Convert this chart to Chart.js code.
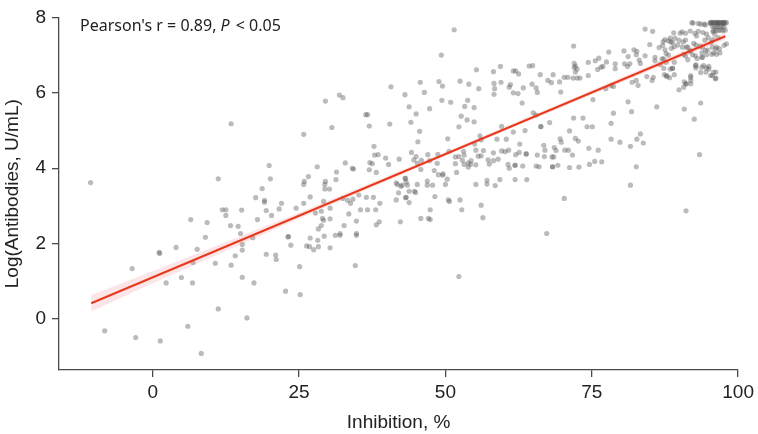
<!DOCTYPE html>
<html>
<head>
<meta charset="utf-8">
<script src="https://cdn.jsdelivr.net/npm/chart.js@4.4.1/dist/chart.umd.min.js"></script>
<style>
  html, body { margin: 0; padding: 0; background: #fff; }
  #wrap { width: 758px; height: 434px; }
</style>
</head>
<body>
<div id="wrap"><canvas id="scatterChart" width="758" height="434"></canvas></div>
<script>
"use strict";

// axis ticks
const xTicks = [0, 25, 50, 75, 100];
const yTicks = [0, 2, 4, 6, 8];

// samples [inhibition %, log antibodies]
const lowGroup = [
    [-10.6, 3.62], [13.4, 5.18], [11.2, 3.72], [11.9, 2.90], [12.5, 2.90], [12.5, 2.75], [6.5, 2.64],
    [9.3, 2.56], [13.3, 2.48], [14.6, 2.46], [9.0, 2.17], [4.0, 1.90], [7.6, 1.85], [1.1, 1.77],
    [1.2, 1.74], [14.1, 1.68], [6.9, 1.50], [10.7, 1.48], [13.4, 1.43], [-3.5, 1.34], [4.9, 1.10],
    [2.3, 0.96], [6.8, 0.96], [11.2, 0.27], [6.0, -0.19], [-8.2, -0.31], [-2.9, -0.49], [1.3, -0.58],
    [8.3, -0.91]
];

const midLowGroup = [
    [40.7, 6.16], [43.1, 5.95], [31.9, 5.94], [32.5, 5.87], [29.5, 5.78], [36.4, 5.42], [36.7, 5.42],
    [37.0, 5.12], [40.5, 5.17], [30.6, 5.08], [25.8, 4.90], [37.8, 4.58], [37.9, 4.35], [38.5, 4.36],
    [39.8, 4.27], [42.1, 4.24], [19.9, 4.07], [28.1, 4.04], [32.9, 4.14], [34.1, 4.00], [34.3, 3.98],
    [37.1, 4.15], [37.5, 4.12], [40.3, 4.10], [37.0, 3.96], [38.2, 3.89], [31.4, 3.90], [26.6, 3.78],
    [20.1, 3.72], [29.5, 3.65], [31.3, 3.70], [25.9, 3.65], [43.1, 3.73], [41.6, 3.61],
    [18.7, 3.46], [25.8, 3.57], [29.4, 3.57], [29.4, 3.45], [30.2, 3.45], [17.6, 3.22], [19.1, 3.15],
    [19.1, 3.10], [22.0, 3.07], [26.9, 3.24], [25.8, 3.07], [21.6, 2.92], [24.5, 2.94], [19.4, 2.88],
    [15.2, 2.89], [20.3, 2.75], [17.9, 2.64], [27.8, 2.81], [28.8, 2.86], [30.3, 2.94], [29.2, 3.12],
    [30.3, 2.66], [29.0, 2.67], [29.2, 2.62], [32.5, 3.20], [33.3, 3.15], [33.8, 3.07], [34.2, 3.18],
    [35.5, 2.90], [36.7, 2.90], [38.1, 2.90], [33.5, 2.79], [35.2, 3.29], [36.5, 3.23], [37.7, 3.23],
    [38.8, 3.07], [34.8, 2.60], [32.7, 2.48], [28.8, 2.48], [28.3, 2.39], [38.7, 2.58], [38.2, 2.50],
    [41.6, 3.16], [42.0, 3.35], [43.2, 3.22], [42.4, 3.52], [41.8, 3.57], [15.0, 2.27], [15.3, 1.98],
    [15.3, 1.83], [17.1, 2.16], [23.1, 2.18], [23.2, 2.19], [23.6, 1.96], [26.9, 2.15], [26.3, 1.94],
    [26.8, 1.92], [27.5, 1.84], [28.2, 2.09], [28.3, 1.92], [29.3, 2.20], [30.3, 1.89], [31.2, 2.22],
    [32.0, 2.27], [32.0, 2.22], [34.8, 2.27], [34.8, 2.22], [19.4, 1.72], [21.0, 1.70], [21.1, 1.58],
    [25.1, 1.39], [34.6, 1.42], [15.3, 1.11], [17.3, 0.96], [22.7, 0.74], [25.2, 0.65], [16.1, 0.03]
];

const midHighGroup = [
    [42.6, 3.55], [43.5, 3.55], [45.2, 3.57], [46.9, 3.55], [47.8, 3.55], [50.0, 3.57], [55.2, 3.57],
    [57.1, 3.58], [58.5, 3.54], [43.8, 3.39], [44.7, 3.39], [44.9, 3.36], [43.3, 3.23], [43.8, 3.09],
    [48.2, 3.25], [50.5, 3.16], [50.7, 3.12], [52.5, 3.16], [52.8, 2.90], [56.1, 3.02], [56.4, 2.69],
    [47.4, 2.90], [45.8, 2.67], [47.1, 2.67], [47.4, 2.64], [42.3, 2.58], [70.3, 3.20], [67.3, 2.27],
    [52.3, 1.13],
    [51.5, 7.67], [49.3, 7.00], [71.9, 7.24], [72.0, 6.78], [72.2, 6.71], [72.5, 6.63], [55.3, 6.61],
    [59.4, 6.70], [61.6, 6.58], [62.0, 6.58], [62.5, 6.50], [64.3, 6.71], [64.9, 6.72], [58.2, 6.56],
    [66.2, 6.48], [68.4, 6.48], [70.3, 6.41], [70.9, 6.41], [71.8, 6.39], [72.5, 6.39], [45.7, 6.28],
    [48.9, 6.30], [49.5, 6.18], [52.5, 6.31], [54.0, 6.23], [55.7, 6.11], [58.3, 6.25], [58.4, 6.11],
    [58.3, 5.96], [59.5, 6.28], [61.1, 6.22], [60.9, 6.15], [61.6, 6.00], [62.4, 5.98], [63.3, 6.13],
    [64.8, 6.23], [65.5, 6.13], [65.7, 6.01], [67.5, 6.33], [68.1, 6.27], [69.5, 6.29], [69.7, 6.02],
    [46.4, 6.01], [43.8, 5.63], [47.3, 5.58], [49.4, 5.80], [50.9, 5.75], [53.3, 5.64], [53.8, 5.80],
    [54.9, 5.61], [45.0, 5.44], [44.1, 5.22], [52.7, 5.38], [53.7, 5.28], [54.9, 5.23], [52.3, 5.10],
    [45.6, 4.98], [63.1, 5.73], [65.0, 5.47], [65.5, 5.41], [59.6, 5.11], [61.6, 4.96], [63.6, 5.00],
    [66.3, 5.10], [66.3, 5.11], [67.8, 5.21], [71.9, 5.33], [73.5, 5.33], [71.2, 4.99], [72.2, 4.79],
    [72.7, 4.72], [69.6, 4.78], [69.8, 4.69], [50.4, 4.78], [55.9, 4.86], [56.1, 4.75], [58.8, 4.77],
    [60.4, 4.77], [62.7, 4.64], [66.8, 4.61], [67.0, 4.48], [68.6, 4.55], [68.9, 4.47], [70.4, 4.48],
    [71.0, 4.48], [45.3, 4.70], [44.2, 4.42], [44.6, 4.22], [45.0, 4.31], [47.0, 4.36], [48.7, 4.37],
    [50.6, 4.45], [51.7, 4.30], [52.3, 4.31], [53.1, 4.45], [53.2, 4.35], [52.9, 4.21], [55.0, 4.64],
    [55.2, 4.48], [56.5, 4.47], [58.2, 4.41], [59.6, 4.46], [60.2, 4.44], [60.8, 4.48], [62.6, 4.42],
    [63.8, 4.38], [63.8, 4.38], [65.7, 4.35], [68.2, 4.30], [68.5, 4.30], [71.7, 4.35], [45.2, 4.13],
    [45.9, 4.21], [47.3, 4.20], [48.6, 4.13], [51.7, 4.12], [54.4, 4.20], [53.9, 4.14], [55.6, 4.32],
    [56.1, 4.33], [57.3, 4.22], [58.2, 4.20], [59.0, 4.24], [62.0, 4.36], [66.9, 4.31], [53.2, 4.10],
    [53.9, 4.03], [54.3, 4.10], [55.2, 4.09], [57.5, 4.11], [60.7, 4.10], [60.9, 4.00], [61.9, 4.08],
    [61.9, 4.08], [63.2, 4.06], [65.5, 4.06], [66.0, 4.04], [68.3, 4.04], [68.3, 4.04], [69.2, 4.08],
    [71.2, 4.02], [72.8, 4.03], [43.2, 3.73], [43.3, 3.63], [45.8, 3.97], [48.1, 3.94], [48.8, 3.83],
    [49.5, 3.82], [49.6, 3.85], [46.9, 3.66], [50.3, 3.71], [51.9, 3.89], [57.1, 3.68], [59.3, 3.70],
    [61.9, 3.70], [63.9, 3.70]
];

const highGroup = [
    [84.1, 7.69], [85.4, 7.63], [92.3, 7.85], [93.2, 7.84], [94.2, 7.82], [77.9, 7.08], [80.5, 7.11],
    [82.2, 7.14], [82.7, 7.10], [81.2, 6.96], [84.1, 6.98], [82.6, 7.01], [84.9, 7.28], [86.5, 7.20],
    [87.2, 7.36], [87.5, 7.41], [88.4, 7.45], [90.1, 7.58], [90.4, 7.62], [91.0, 7.58], [91.8, 7.64],
    [92.6, 7.58], [72.0, 6.67], [72.2, 6.55], [74.4, 6.81], [75.6, 6.85], [76.2, 6.92], [76.0, 6.62],
    [76.6, 6.68], [76.9, 6.70], [74.4, 6.46], [73.0, 6.39], [77.5, 6.82], [79.0, 6.77], [79.0, 6.64],
    [80.6, 6.77], [81.1, 6.70], [81.5, 6.77], [83.1, 6.87], [83.3, 6.78], [85.8, 6.94], [85.8, 6.85],
    [87.0, 6.90], [87.3, 6.65], [88.1, 7.00], [87.7, 6.81], [88.5, 7.35], [88.6, 7.18], [89.1, 7.22],
    [89.7, 7.27], [90.6, 7.35], [91.0, 7.40], [91.2, 7.21], [91.7, 7.10], [92.4, 7.31], [92.9, 7.51],
    [93.2, 7.63], [93.5, 7.24], [93.8, 7.06], [91.0, 6.98], [91.4, 6.88], [92.2, 7.01], [93.0, 6.91],
    [93.9, 6.94], [94.8, 7.13], [95.4, 7.34], [94.6, 7.01], [95.8, 7.06], [96.2, 7.16], [89.1, 6.81],
    [88.8, 6.65], [89.1, 6.48], [87.4, 6.48], [87.8, 6.46], [85.5, 6.41], [84.4, 6.43], [85.3, 6.33],
    [81.9, 6.28], [82.6, 6.33], [82.9, 6.20], [78.3, 6.19], [78.7, 6.17], [77.4, 6.11], [92.8, 6.74],
    [92.8, 6.66], [94.1, 6.72], [94.6, 6.66], [95.0, 6.70], [94.5, 6.55], [96.2, 6.55], [95.6, 6.46],
    [96.2, 6.39], [91.9, 6.41], [91.9, 6.33], [90.8, 6.29], [89.9, 6.08], [90.7, 6.15], [91.1, 6.24],
    [93.6, 5.73], [90.8, 5.57], [92.5, 5.30], [93.4, 4.36], [86.1, 5.63], [81.2, 5.76], [81.8, 5.50],
    [75.2, 5.82], [78.7, 5.46], [78.3, 5.19], [74.2, 5.10], [75.1, 5.10], [83.3, 4.91], [78.3, 4.77],
    [79.8, 4.69], [82.7, 4.77], [83.8, 4.67], [81.6, 4.58], [74.5, 4.53], [76.1, 4.48], [75.5, 4.18],
    [76.7, 4.17], [74.6, 4.10], [82.6, 4.04], [81.6, 3.55], [91.1, 2.87],
    [92.1, 7.86], [93.6, 7.82], [94.4, 7.80], [89.0, 7.59], [88.1, 7.38], [89.2, 7.45], [88.8, 7.33],
    [89.9, 7.40], [94.0, 7.60], [94.6, 7.56], [95.7, 7.62], [96.0, 7.55], [94.3, 7.40], [94.9, 7.46],
    [95.7, 7.41], [96.6, 7.46], [92.8, 7.27], [93.9, 7.21], [94.4, 7.12], [95.6, 7.21], [96.3, 7.21],
    [96.8, 7.17], [87.1, 7.26], [87.5, 7.14], [87.7, 7.04], [90.5, 7.21], [91.4, 7.21], [91.9, 7.12],
    [95.5, 7.02], [96.3, 7.02], [96.9, 7.06], [97.6, 7.26], [98.0, 7.30], [87.3, 6.90], [86.7, 6.75],
    [90.7, 7.02], [92.7, 6.98], [93.8, 6.94], [92.7, 6.72], [93.8, 6.68], [95.0, 6.63], [95.3, 6.46],
    [95.8, 6.54], [96.1, 6.37], [93.6, 6.54], [91.9, 6.46], [88.8, 6.65], [88.4, 6.63], [87.8, 6.43],
    [88.3, 6.40], [91.1, 6.24], [91.9, 6.24]
];

// saturated samples near the top of the assay range
const cappedGroup = [
    [95.2, 7.86], [95.4, 7.86], [95.6, 7.87], [95.8, 7.86], [96.0, 7.86], [96.2, 7.87], [96.4, 7.86],
    [96.6, 7.86], [96.8, 7.87], [97.0, 7.86], [97.2, 7.86], [97.4, 7.86], [97.6, 7.87], [97.8, 7.86],
    [98.0, 7.86], [95.3, 7.84], [96.5, 7.84], [97.5, 7.84],
    [95.6, 7.76], [96.0, 7.75], [96.4, 7.76], [96.8, 7.75], [97.2, 7.76], [97.6, 7.75],
    [95.8, 7.65], [96.2, 7.66], [96.6, 7.65], [97.0, 7.66], [97.4, 7.65], [97.8, 7.66]
];

// regression line and its confidence band
const fitX = [-10.5, 97.8];
const fitY = [0.42, 7.50];
const bandX = [-10.5, 0, 25, 50, 75, 97.8];
const bandHigh = [0.64, 1.27, 2.82, 4.43, 6.07, 7.59];
const bandLow = [0.20, 0.95, 2.66, 4.33, 5.95, 7.41];

const axisFont = "'Liberation Sans', Arial, sans-serif";
const axisColor = '#4a4a4a';

var statsLabel = {
    id: 'statsLabel',
    afterDraw: function (chart) {
        const ctx = chart.ctx;
        const area = chart.chartArea;
        let x = area.left + 21;
        const y = area.top + 14;
        ctx.save();
        ctx.fillStyle = '#222';
        ctx.textBaseline = 'alphabetic';
        ctx.font = "16px 'Noto Sans'";
        const first = "Pearson's r = 0.89, ";
        ctx.fillText(first, x, y);
        x += ctx.measureText(first).width;
        ctx.font = "italic 16px 'Noto Sans'";
        ctx.fillText('P', x, y);
        x += ctx.measureText('P').width + 2;
        ctx.font = "16px 'Noto Sans'";
        ctx.fillText(' < 0.05', x, y);
        ctx.restore();
    }
};

const toPoints = (rows) => rows.map(r => ({ x: r[0], y: r[1] }));
const allSamples = [].concat(lowGroup, midLowGroup, midHighGroup, highGroup, cappedGroup);

const ctx = document.getElementById('scatterChart').getContext('2d');
new Chart(ctx, {
    type: 'scatter',
    data: {
        datasets: [
            {
                type: 'line',
                data: fitX.map((x, i) => ({ x: x, y: fitY[i] })),
                borderColor: '#e8391d',
                borderWidth: 2,
                pointRadius: 0,
                fill: false,
                order: 0
            },
            {
                type: 'line',
                data: bandX.map((x, i) => ({ x: x, y: bandHigh[i] })),
                borderColor: 'transparent',
                borderWidth: 0,
                pointRadius: 0,
                backgroundColor: 'rgba(240, 110, 120, 0.18)',
                fill: '+1',
                order: 1
            },
            {
                type: 'line',
                data: bandX.map((x, i) => ({ x: x, y: bandLow[i] })),
                borderColor: 'transparent',
                borderWidth: 0,
                pointRadius: 0,
                fill: false,
                order: 1
            },
            {
                data: toPoints(allSamples),
                backgroundColor: 'rgba(85, 85, 85, 0.4)',
                borderWidth: 0,
                pointRadius: 2.6,
                order: 2
            }
        ]
    },
    options: {
        responsive: false,
        animation: false,
        devicePixelRatio: 1,
        layout: {
            padding: { top: 10, right: 18, left: 0, bottom: 0 }
        },
        plugins: {
            legend: { display: false },
            tooltip: { enabled: false }
        },
        scales: {
            x: {
                type: 'linear',
                min: -16,
                max: 100,
                afterBuildTicks: function (scale) {
                    scale.ticks = xTicks.map(v => ({ value: v }));
                },
                afterFit: function (scale) {
                    scale.height = 64;
                },
                grid: { drawOnChartArea: false, drawTicks: true, tickLength: 7, color: axisColor, lineWidth: 1.3 },
                border: { display: true, color: axisColor, width: 1.3 },
                ticks: { color: '#222', padding: 4, maxRotation: 0, font: { family: axisFont, size: 19 } },
                title: {
                    display: true,
                    text: 'Inhibition, %',
                    color: '#222',
                    padding: { top: 0, bottom: 0 },
                    font: { family: axisFont, size: 19 }
                }
            },
            y: {
                type: 'linear',
                min: -1.35,
                max: 8,
                afterBuildTicks: function (scale) {
                    scale.ticks = yTicks.map(v => ({ value: v }));
                },
                afterFit: function (scale) {
                    scale.width = 59;
                },
                grid: { drawOnChartArea: false, drawTicks: true, tickLength: 7, color: axisColor, lineWidth: 1.3 },
                border: { display: true, color: axisColor, width: 1.3 },
                ticks: { color: '#222', padding: 6, font: { family: axisFont, size: 19 } },
                title: {
                    display: true,
                    text: 'Log(Antibodies, U/mL)',
                    color: '#222',
                    padding: { top: 1, bottom: 0 },
                    font: { family: axisFont, size: 19 }
                }
            }
        }
    },
    plugins: [statsLabel]
});
</script>
</body>
</html>
